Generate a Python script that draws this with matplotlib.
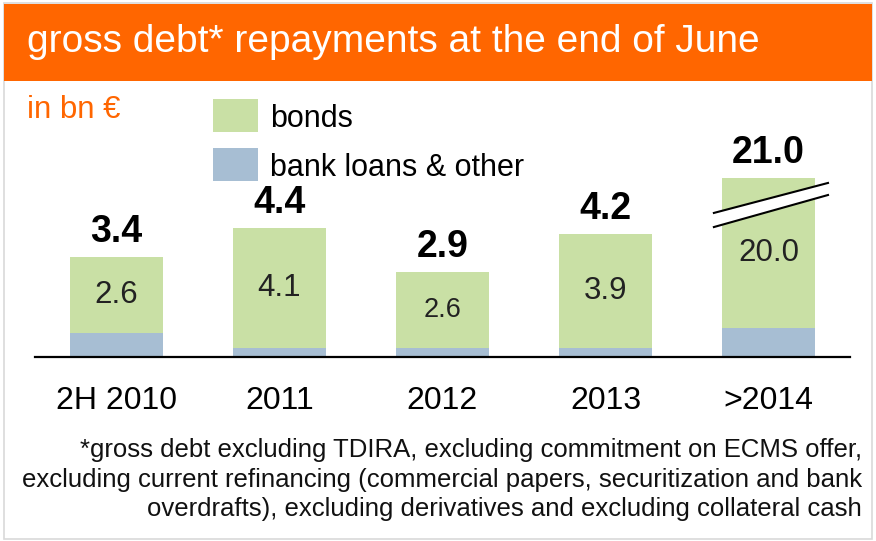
import matplotlib.pyplot as plt
from matplotlib.patches import Rectangle, Polygon

categories = ["2H 2010", "2011", "2012", "2013", ">2014"]
bonds = [2.6, 4.1, 2.6, 3.9, 20.0]
other = [0.8, 0.3, 0.3, 0.3, 1.0]
totals = [3.4, 4.4, 2.9, 4.2, 21.0]
shown_cap = 6.1  # the >2014 bar is cut (axis break)

footnote = ("*gross debt excluding TDIRA, excluding commitment on ECMS offer,\n"
            "excluding current refinancing (commercial papers, securitization and bank\n"
            "overdrafts), excluding derivatives and excluding collateral cash")

orange = "#ff6600"
green = "#c9e0a5"
blue = "#a7bed3"
plt.rcParams['font.family'] = ['Liberation Sans', 'DejaVu Sans']

fig = plt.figure(figsize=(8.76, 5.41), dpi=100)

# frame + orange header
fig.patches.append(Rectangle((0.004, 0.004), 0.992, 0.99, transform=fig.transFigure,
                             fill=False, edgecolor="#d9d9d9", lw=1.2))
fig.patches.append(Rectangle((0.004, 1 - 81 / 541), 0.992, 77 / 541, transform=fig.transFigure,
                             facecolor=orange, edgecolor="none"))
fig.text(27 / 876, 1 - 42 / 541, "gross debt* repayments at the end of June",
         color="white", fontsize=28, va="center", ha="left")
fig.text(27 / 876, 1 - 110 / 541, "in bn €", color=orange, fontsize=22.5, va="center")

ax = fig.add_axes([35 / 876, 1 - 357 / 541, 815 / 876, 267 / 541])
x = list(range(len(categories)))
w = 0.57
shown_bonds = [b if t <= shown_cap else shown_cap - o for b, o, t in zip(bonds, other, totals)]
shown_tot = [min(t, shown_cap) for t in totals]
ax.bar(x, other, w, color=blue, label="bank loans & other")
ax.bar(x, shown_bonds, w, bottom=other, color=green, label="bonds")

for i in x:
    fs = 19.5 if i == 2 else 22.5
    yb = other[i] + shown_bonds[i] / 2
    ax.text(i, yb, f"{bonds[i]:.1f}", ha="center", va="center", fontsize=fs, color="#222222")
    ax.text(i, shown_tot[i] + 0.85, f"{totals[i]:.1f}", ha="center", va="center",
            fontsize=27, fontweight="bold", color="black")

# axis break mark on the last bar
i = 4
bx0, bx1 = i - w / 2 - 0.05, i + w / 2 + 0.08
ylo = [4.90, 5.92]
yhi = [4.42, 5.51]
poly = Polygon([(bx0, ylo[0]), (bx1, ylo[1]), (bx1, yhi[1]), (bx0, yhi[0])],
               closed=True, facecolor="white", edgecolor="none", clip_on=False, zorder=3)
ax.add_patch(poly)
ax.plot([bx0, bx1], ylo, color="black", lw=1.5, clip_on=False, zorder=4)
ax.plot([bx0, bx1], yhi, color="black", lw=1.5, clip_on=False, zorder=4)

ax.set_xlim(-0.5, 4.5)
ax.set_ylim(0, 267 / 29.4)
for s in ["top", "left", "right"]:
    ax.spines[s].set_visible(False)
ax.spines["bottom"].set_linewidth(1.6)
ax.set_yticks([])
ax.set_xticks(x)
ax.set_xticklabels(categories, fontsize=23)
ax.tick_params(axis="x", length=0, pad=21)

# legend drawn by hand as squares
fig.patches.append(Rectangle((213 / 876, 1 - 132 / 541), 45 / 876, 33 / 541,
                             transform=fig.transFigure, facecolor=green, edgecolor="none"))
fig.patches.append(Rectangle((213 / 876, 1 - 181 / 541), 45 / 876, 33 / 541,
                             transform=fig.transFigure, facecolor=blue, edgecolor="none"))
fig.text(270 / 876, 1 - 119 / 541, "bonds", fontsize=22, va="center")
fig.text(270 / 876, 1 - 168 / 541, "bank loans & other", fontsize=22, va="center")

fig.text(862 / 876, 1 - 479.5 / 541, footnote, fontsize=18.5, ha="right", va="center",
         linespacing=1.3, color="#111111")

fig.savefig("out.png", dpi=100)
